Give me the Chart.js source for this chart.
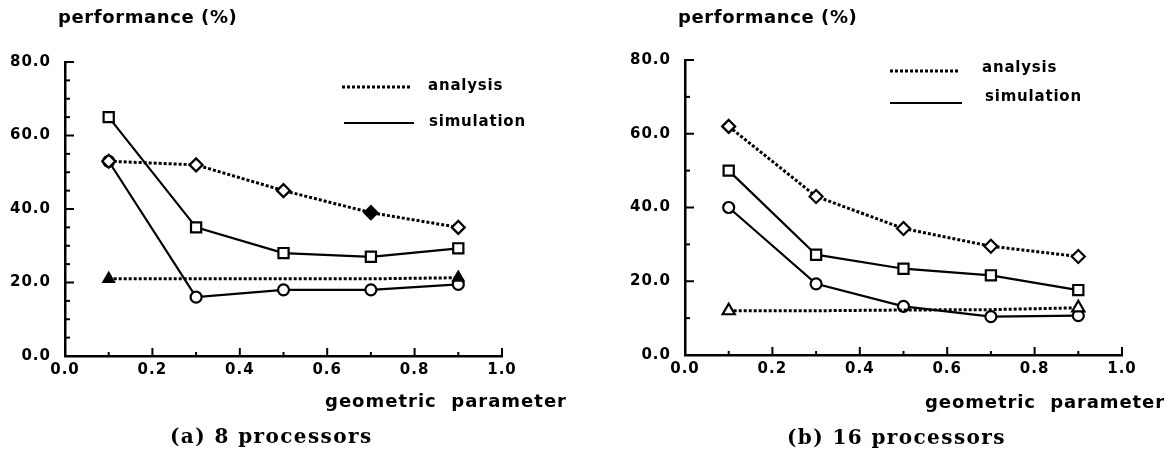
<!DOCTYPE html>
<html>
<head>
<meta charset="utf-8">
<script src="https://cdn.jsdelivr.net/npm/chart.js@4/dist/chart.umd.min.js"></script>
<style>
  body { margin: 0; background: #fff; }
  #wrap { position: relative; width: 1173px; height: 454px; overflow: hidden; }
  canvas { position: absolute; top: 0; }
  .lbl { position: absolute; font-family: 'DejaVu Sans', sans-serif; font-weight: bold; color: #000;
         font-size: 18px; letter-spacing: 0.6px; line-height: 20px; white-space: pre; }
  .cap { position: absolute; font-family: 'DejaVu Serif', serif; font-weight: bold; color: #000;
         font-size: 20px; letter-spacing: 1.4px; line-height: 24px; white-space: pre; }
</style>
</head>
<body>
<div id="wrap">
  <canvas id="chartA" width="590" height="454" style="left:0"></canvas>
  <canvas id="chartB" width="583" height="454" style="left:590px"></canvas>
  <div class="lbl" style="left:58px;top:7px">performance (%)</div>
  <div class="lbl" style="left:678px;top:7px">performance (%)</div>
  <div class="lbl" style="left:325px;top:391px;letter-spacing:1px">geometric  parameter</div>
  <div class="lbl" style="left:925px;top:392px;letter-spacing:0.9px">geometric  parameter</div>
  <div class="cap" style="left:170px;top:424px">(a) 8 processors</div>
  <div class="cap" style="left:787px;top:425px">(b) 16 processors</div>
</div>
<script>
// geometric parameter values
const xValues = [0.1, 0.3, 0.5, 0.7, 0.9];

// (a) 8 processors
const a8Diamond = [53, 52, 45, 39, 35];
const s8Square = [65, 35, 28, 27, 29.3];
const a8Triangle = [21, 21, 21, 21, 21.3];
const s8Circle = [53, 16, 18, 18, 19.5];

// (b) 16 processors
const a16Diamond = [62, 43, 34.3, 29.5, 26.7];
const s16Square = [50, 27.2, 23.4, 21.6, 17.6];
const a16Triangle = [12, 12, 12.2, 12.3, 12.8];
const s16Circle = [40, 19.3, 13.2, 10.4, 10.7];

// axes
const xTicks = [0.0, 0.2, 0.4, 0.6, 0.8, 1.0];
const xMinorTicks = [0.1, 0.3, 0.5, 0.7, 0.9];
const yTicks = [0, 20, 40, 60, 80];
const yMinorA = [5, 10, 15, 25, 30, 35, 45, 50, 55, 65, 70, 75];
const yMinorB = [10, 30, 50, 70];
const legendLabels = ['analysis', 'simulation'];

Chart.defaults.font.family = "'DejaVu Sans', sans-serif";
Chart.defaults.font.weight = 'bold';
Chart.defaults.font.size = 15;
Chart.defaults.color = '#000';

const pts = (ys) => xValues.map((x, i) => ({ x: x, y: ys[i] }));

function series(ys, style, dotted, radius, fill) {
  return {
    data: pts(ys),
    borderColor: '#000',
    borderWidth: dotted ? 3 : 2.2,
    borderDash: dotted ? [3, 2] : [],
    tension: 0,
    pointStyle: style,
    pointRadius: radius,
    pointHoverRadius: radius,
    pointBorderWidth: 2.2,
    pointBorderColor: '#000',
    pointBackgroundColor: fill || '#fff'
  };
}

// inward tick marks + letter spacing for tick labels
const tickMarks = {
  id: 'tickMarks',
  beforeDraw(chart) { chart.ctx.letterSpacing = '1px'; },
  beforeDatasetsDraw(chart, args, opts) {
    const { ctx, chartArea, scales } = chart;
    ctx.save();
    ctx.strokeStyle = '#000';
    ctx.lineWidth = 2;
    const mark = (vals, len, isX) => vals.forEach(v => {
      ctx.beginPath();
      if (isX) {
        const px = scales.x.getPixelForValue(v);
        ctx.moveTo(px, chartArea.bottom);
        ctx.lineTo(px, chartArea.bottom - len);
      } else {
        const py = scales.y.getPixelForValue(v);
        ctx.moveTo(chartArea.left, py);
        ctx.lineTo(chartArea.left + len, py);
      }
      ctx.stroke();
    });
    mark(xTicks, 8, true);
    mark(xMinorTicks, 4, true);
    mark(yTicks, 9, false);
    mark(opts.yMinor || [], 5, false);
    ctx.restore();
  }
};

// legend drawn inside the plot: dotted = analysis, solid = simulation
const paperLegend = {
  id: 'paperLegend',
  afterDraw(chart, args, opts) {
    const ctx = chart.ctx;
    ctx.save();
    ctx.strokeStyle = '#000';
    ctx.fillStyle = '#000';
    ctx.textBaseline = 'middle';
    ctx.textAlign = 'left';
    ctx.font = "bold 15px 'DejaVu Sans'";
    ctx.letterSpacing = '0.8px';
    opts.items.forEach((it, i) => {
      ctx.beginPath();
      ctx.lineWidth = i === 0 ? 3 : 2.2;
      ctx.setLineDash(i === 0 ? [3, 2] : []);
      ctx.moveTo(it.x0, it.y);
      ctx.lineTo(it.x1, it.y);
      ctx.stroke();
      ctx.setLineDash([]);
      ctx.fillText(legendLabels[i], it.tx, it.ty);
    });
    ctx.restore();
  }
};

function makeChart(id, datasets, layout) {
  return new Chart(document.getElementById(id), {
    type: 'line',
    data: { datasets: datasets },
    options: {
      responsive: false,
      animation: false,
      events: [],
      layout: { autoPadding: false, padding: { top: layout.top, right: layout.right, bottom: 0, left: 0 } },
      plugins: {
        legend: { display: false },
        tooltip: { enabled: false },
        tickMarks: { yMinor: layout.yMinor },
        paperLegend: { items: layout.legend }
      },
      scales: {
        x: {
          type: 'linear', min: 0, max: 1,
          afterBuildTicks: (s) => { s.ticks = xTicks.map(v => ({ value: v })); },
          afterFit: (s) => { s.height = layout.xHeight; },
          ticks: { padding: 5, maxRotation: 0, callback: (v) => Number(v).toFixed(1) },
          grid: { drawOnChartArea: false, drawTicks: false },
          border: { color: '#000', width: 2.5 }
        },
        y: {
          type: 'linear', min: 0, max: 80,
          afterBuildTicks: (s) => { s.ticks = yTicks.map(v => ({ value: v })); },
          afterFit: (s) => { s.width = layout.yWidth; },
          ticks: { padding: 14, callback: (v) => Number(v).toFixed(1) },
          grid: { drawOnChartArea: false, drawTicks: false },
          border: { color: '#000', width: 2.5 }
        }
      }
    },
    plugins: [tickMarks, paperLegend]
  });
}

makeChart('chartA', [
  series(a8Diamond, 'rectRot', true, 6.5, ['#fff', '#fff', '#fff', '#000', '#fff']),
  series(s8Square, 'rect', false, 7.2),
  series(a8Triangle, 'triangle', true, [6, 0, 0, 0, 6], '#000'),
  series(s8Circle, 'circle', false, 5.5)
], {
  top: 62, right: 88, xHeight: 98, yWidth: 65, yMinor: yMinorA,
  legend: [
    { x0: 342, x1: 410, y: 87, tx: 428, ty: 86 },
    { x0: 344, x1: 414, y: 123, tx: 429, ty: 122 }
  ]
});

makeChart('chartB', [
  series(a16Diamond, 'rectRot', true, 6.5),
  series(s16Square, 'rect', false, 7.2),
  series(a16Triangle, 'triangle', true, [7, 0, 0, 0, 7]),
  series(s16Circle, 'circle', false, 5.5)
], {
  top: 60, right: 51, xHeight: 99, yWidth: 95, yMinor: yMinorB,
  legend: [
    { x0: 300, x1: 368, y: 71, tx: 392, ty: 68 },
    { x0: 300, x1: 372, y: 103, tx: 395, ty: 97 }
  ]
});
</script>
</body>
</html>
